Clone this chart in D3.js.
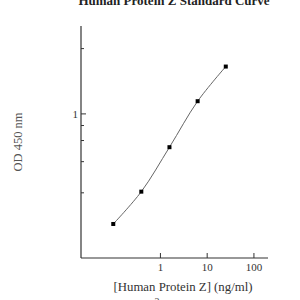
<!DOCTYPE html>
<html>
<head>
<meta charset="utf-8">
<script src="https://cdn.jsdelivr.net/npm/d3@7"></script>
<style>
  body { margin: 0; background: #fff; }
  text { font-family: "Liberation Serif", "DejaVu Serif", serif; }
</style>
</head>
<body>
<div id="chart"></div>
<script>
const width = 300;
const height = 300;

// standard curve data
const conc = [0.098, 0.39, 1.56, 6.25, 25];
const od = [0.121, 0.225, 0.528, 1.276, 2.48];

const xTicks = [1, 10, 100];
const yMajor = [1];
const yMinor = [3.5, 0.8, 0.6, 0.4, 0.22];

const svg = d3.select("#chart").append("svg")
  .attr("width", width)
  .attr("height", height);

const x = d3.scaleLog().domain([0.02, 200]).range([81, 268]);
const y = d3.scaleLog().domain([0.063, 5.4]).range([258, 26]);

const axisColor = "#333";

// axes lines
svg.append("line")
  .attr("x1", 81).attr("x2", 81)
  .attr("y1", y.range()[1]).attr("y2", y.range()[0])
  .attr("stroke", axisColor).attr("stroke-width", 1.2);

svg.append("line")
  .attr("x1", x.range()[0]).attr("x2", x.range()[1])
  .attr("y1", 258).attr("y2", 258)
  .attr("stroke", axisColor).attr("stroke-width", 1.2);

// x ticks (inward)
svg.append("g").selectAll("line")
  .data(xTicks)
  .enter().append("line")
  .attr("x1", d => x(d)).attr("x2", d => x(d))
  .attr("y1", 258).attr("y2", 253)
  .attr("stroke", axisColor);

svg.append("g").selectAll("text")
  .data(xTicks)
  .enter().append("text")
  .attr("x", d => x(d))
  .attr("y", 271)
  .attr("text-anchor", "middle")
  .attr("font-size", 11)
  .attr("fill", "#333")
  .text(d => d);

// y ticks
svg.append("g").selectAll("line")
  .data(yMajor)
  .enter().append("line")
  .attr("x1", 81).attr("x2", 86)
  .attr("y1", d => y(d)).attr("y2", d => y(d))
  .attr("stroke", axisColor);

svg.append("g").selectAll("line")
  .data(yMinor)
  .enter().append("line")
  .attr("x1", 81).attr("x2", 84)
  .attr("y1", d => y(d)).attr("y2", d => y(d))
  .attr("stroke", axisColor);

svg.append("g").selectAll("text")
  .data(yMajor)
  .enter().append("text")
  .attr("x", 78)
  .attr("y", d => y(d) + 4)
  .attr("text-anchor", "end")
  .attr("font-size", 11)
  .attr("fill", "#333")
  .text(d => d);

// curve
const pts = conc.map((c, i) => [x(c), y(od[i])]);

svg.append("path")
  .datum(pts)
  .attr("fill", "none")
  .attr("stroke", "#666")
  .attr("stroke-width", 1)
  .attr("d", d3.line().curve(d3.curveCatmullRom.alpha(0.5)));

svg.append("g").selectAll("rect")
  .data(pts)
  .enter().append("rect")
  .attr("x", d => d[0] - 2)
  .attr("y", d => d[1] - 2)
  .attr("width", 4)
  .attr("height", 4)
  .attr("fill", "#000");

// labels (title and stray mark are clipped by the edges, as in the source image)
svg.append("text")
  .attr("x", 174)
  .attr("y", 5)
  .attr("text-anchor", "middle")
  .attr("font-size", 13)
  .attr("font-weight", "bold")
  .attr("fill", "#222")
  .text("Human Protein Z Standard Curve");

svg.append("text")
  .attr("x", 183)
  .attr("y", 291)
  .attr("text-anchor", "middle")
  .attr("font-size", 12.8)
  .attr("fill", "#333")
  .text("[Human Protein Z] (ng/ml)");

svg.append("text")
  .attr("x", 157)
  .attr("y", 305)
  .attr("text-anchor", "middle")
  .attr("font-size", 10)
  .attr("fill", "#444")
  .text("2");

svg.append("text")
  .attr("transform", "translate(22,142) rotate(-90)")
  .attr("text-anchor", "middle")
  .attr("font-size", 12.5)
  .attr("fill", "#555")
  .text("OD 450 nm");
</script>
</body>
</html>
